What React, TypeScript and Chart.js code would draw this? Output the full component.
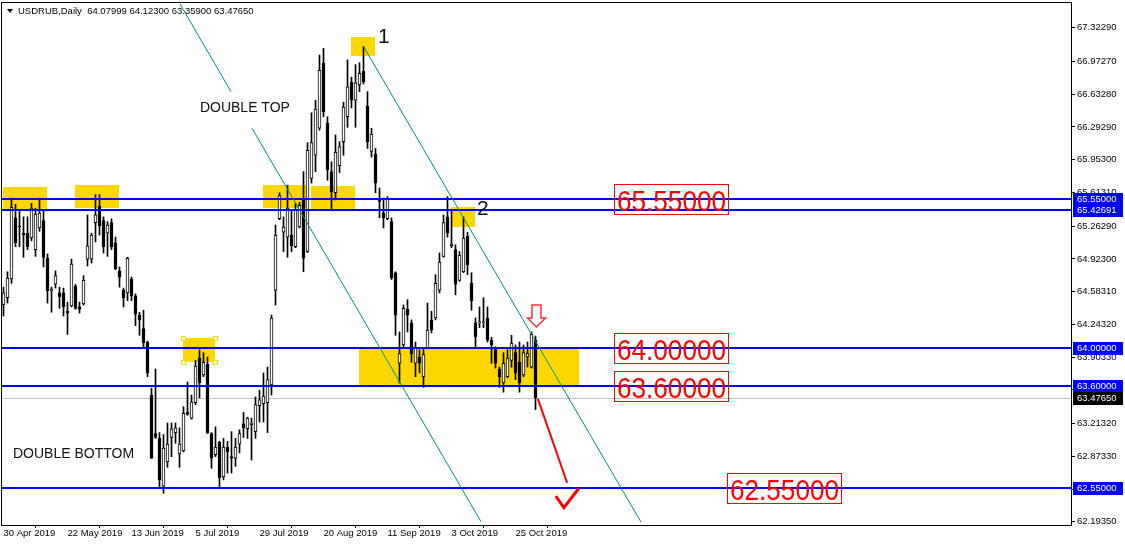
import React, { useEffect, useRef } from 'react';
import { Chart, registerables } from 'chart.js';
Chart.register(...registerables);

// ---------- data (USDRUB daily, 30 Apr 2019 .. 1 Nov 2019) ----------
const OPEN = [
  64.445, 64.52, 64.715, 65.35, 65.265, 65.19, 65.19, 65.14, 65.02, 65.245,
  65.32, 64.93, 64.59, 64.66, 64.57, 64.57, 64.38, 64.435, 64.64, 64.425,
  64.455, 64.92, 64.92, 65.30, 65.47, 65.32, 65.19, 65.30, 65.09, 64.80,
  64.60, 64.57, 64.715, 64.54, 64.34, 64.20, 64.06, 63.51, 63.11, 63.06,
  62.565, 62.815, 63.07, 63.12, 62.90, 62.93, 63.33, 63.27, 63.43, 63.895,
  63.72, 63.83, 63.11, 62.89, 63.02, 62.66, 62.97, 62.87, 62.855, 63.00,
  63.21, 63.16, 63.20, 63.13, 63.40, 63.42, 63.43, 63.615, 64.60, 65.34,
  65.20, 65.15, 65.17, 65.05, 65.255, 65.535, 65.00, 65.76, 66.00, 66.28,
  66.96, 66.33, 65.83, 65.61, 65.89, 66.14, 66.40, 66.76, 66.57, 66.73,
  66.87, 66.51, 66.04, 66.01, 65.535, 65.40, 65.34, 65.31, 64.78, 63.84,
  64.03, 64.40, 64.26, 63.84, 63.905, 63.70, 64.00, 64.29, 64.31, 64.60,
  64.95, 65.36, 65.06, 65.02, 64.70, 64.79, 65.16, 64.67, 64.26, 64.26,
  64.26, 64.31, 64.08, 64.00, 63.78, 63.635, 63.70, 63.87, 63.95, 63.85,
  63.72, 63.905, 63.80, 64.07999,
];
const HIGH = [
  64.63, 64.79, 65.555, 65.49, 65.43, 65.36, 65.36, 65.50, 65.45, 65.555,
  65.43, 64.975, 64.63, 64.80, 64.63, 64.62, 64.475, 64.92, 64.66, 64.475,
  64.75, 65.38, 65.19, 65.59, 65.59, 65.36, 65.31, 65.34, 65.15, 64.84,
  64.62, 64.94, 64.735, 64.56, 64.37, 64.39, 64.07, 63.58, 63.78, 63.12,
  63.10, 63.22, 63.22, 63.22, 63.17, 63.39, 63.645, 63.51, 63.87, 63.98,
  63.95, 63.905, 63.12, 63.18, 63.03, 63.06, 63.03, 63.13, 63.06, 63.15,
  63.33, 63.28, 63.27, 63.49, 63.56, 63.74, 63.80, 64.34, 65.275, 65.61,
  65.36, 65.69, 65.43, 65.50, 65.51, 65.83, 66.13, 66.44, 66.57, 67.04,
  67.11, 66.40, 65.93, 66.21, 66.14, 66.55, 66.99, 66.81, 66.94, 66.96,
  67.13, 66.66, 66.28, 66.07, 65.66, 65.555, 65.57, 65.35, 64.79, 64.165,
  64.445, 64.50, 64.29, 64.06, 63.98, 63.99, 64.465, 64.38, 64.76, 64.985,
  65.38, 65.57, 65.43, 65.07, 65.00, 65.36, 65.20, 64.78, 64.31, 64.425,
  64.52, 64.425, 64.11, 64.01, 63.80, 63.95, 63.98, 64.13, 64.03, 64.06,
  64.03, 64.06, 64.165, 64.123,
];
const LOW = [
  64.33, 64.465, 64.67, 65.05, 65.05, 64.94, 65.02, 65.11, 64.95, 65.21,
  64.84, 64.465, 64.37, 64.62, 64.41, 64.33, 64.14, 64.425, 64.40, 64.36,
  64.445, 64.85, 64.88, 65.10, 65.17, 64.985, 64.95, 65.02, 64.81, 64.63,
  64.425, 64.49, 64.49, 64.23, 64.13, 64.00, 63.70, 62.85, 63.06, 62.555,
  62.49, 62.76, 62.87, 63.01, 62.76, 62.92, 63.30, 63.26, 63.41, 63.48,
  63.70, 63.11, 62.75, 62.87, 62.555, 62.63, 62.70, 62.70, 62.77, 62.91,
  63.07, 63.06, 62.835, 63.06, 63.23, 63.23, 63.12, 63.51, 64.445, 65.33,
  65.00, 64.94, 65.00, 65.04, 65.245, 64.79, 64.99, 65.71, 65.83, 66.26,
  66.40, 65.74, 65.43, 65.535, 65.82, 66.00, 66.29, 66.49, 66.29, 66.66,
  66.74, 66.07, 65.98, 65.61, 65.35, 65.245, 65.33, 64.71, 64.13, 63.635,
  64.00, 64.165, 63.85, 63.70, 63.74, 63.59, 63.99, 64.155, 64.29, 64.57,
  64.94, 65.15, 65.04, 64.55, 64.69, 64.78, 64.76, 64.39, 64.01, 64.21,
  64.21, 64.06, 63.84, 63.79, 63.59, 63.54, 63.69, 63.80, 63.67, 63.54,
  63.70, 63.80, 63.79, 63.359,
];
const CLOSE = [
  64.57, 64.725, 65.46, 65.09, 65.255, 65.17, 65.05, 65.45, 65.39, 65.40,
  64.94, 64.59, 64.61, 64.75, 64.53, 64.425, 64.36, 64.87, 64.41, 64.40,
  64.70, 65.06, 65.17, 65.38, 65.265, 65.05, 65.275, 65.05, 64.82, 64.735,
  64.52, 64.93, 64.54, 64.35, 64.29, 64.05, 63.74, 62.855, 63.07, 62.63,
  62.96, 63.00, 63.16, 63.17, 63.00, 63.32, 63.31, 63.44, 63.81, 63.635,
  63.85, 63.12, 62.855, 62.97, 62.65, 62.97, 62.92, 62.855, 62.97, 63.11,
  63.17, 63.27, 63.22, 63.41, 63.46, 63.50, 63.67, 64.31, 65.17, 65.58,
  65.255, 65.45, 65.06, 65.43, 65.48, 64.93, 66.05, 66.13, 66.48, 66.88,
  66.45, 65.85, 65.62, 66.03, 66.09, 66.50, 66.71, 66.57, 66.75, 66.85,
  66.76, 66.14, 66.22, 65.71, 65.52, 65.35, 65.555, 64.725, 64.34, 63.94,
  64.41, 64.34, 63.94, 64.01, 63.84, 63.93, 64.185, 64.185, 64.67, 64.89,
  65.30, 65.19, 65.08, 64.66, 64.96, 65.14, 64.86, 64.49, 64.11, 64.27,
  64.265, 64.08, 64.03, 63.84, 63.70, 63.84, 63.895, 64.05, 63.74, 63.635,
  63.95, 63.94, 64.14, 63.4765,
];

const X_TICK_INDEX = [0, 16, 32, 48, 64, 80, 96, 112, 128];
const X_TICK_LABELS = [
  '30 Apr 2019', '22 May 2019', '13 Jun 2019', '5 Jul 2019', '29 Jul 2019',
  '20 Aug 2019', '11 Sep 2019', '3 Oct 2019', '25 Oct 2019',
];
const Y_TICKS = [
  67.3229, 66.9727, 66.6328, 66.2929, 65.953, 65.6131, 65.2629, 64.923,
  64.5831, 64.2432, 63.9033, 63.5634, 63.2132, 62.8733, 62.5334, 62.1935,
];
const LEVELS = [65.55, 65.42691, 64.0, 63.6, 62.55];
const BID = 63.4765;
const TITLE = 'USDRUB,Daily  64.07999 64.12300 63.35900 63.47650';

// ---------- drawing objects, in bar-index / price units ----------
const ZONES = [
  { x0: -0.25, x1: 10.9, p0: 65.67, p1: 65.43 },
  { x0: 17.9, x1: 28.9, p0: 65.69, p1: 65.45 },
  { x0: 64.9, x1: 75.6, p0: 65.69, p1: 65.45 },
  { x0: 76.9, x1: 87.9, p0: 65.68, p1: 65.43 },
  { x0: 86.9, x1: 92.9, p0: 67.23, p1: 67.03 },
  { x0: 111.9, x1: 117.9, p0: 65.46, p1: 65.255 },
  { x0: 44.9, x1: 52.9, p0: 64.1, p1: 63.85, handles: true },
  { x0: 88.9, x1: 143.9, p0: 64.01, p1: 63.61 },
];
const TRENDS = [
  { x0: 44.125, p0: 67.57, x1: 56.875, p1: 66.66 },
  { x0: 62.125, p0: 66.28, x1: 119.375, p1: 62.195 },
  { x0: 90, p0: 67.13, x1: 159.4, p1: 62.19 },
];
const LABELS = [
  { text: 'DOUBLE TOP', x: 49.1, p: 66.49, size: 14 },
  { text: 'DOUBLE BOTTOM', x: 2.375, p: 62.9, size: 14 },
  { text: '1', x: 93.6, p: 67.23, size: 21 },
  { text: '2', x: 118.4, p: 65.44, size: 21 },
];
const BOXES = [
  { text: '65.55000', x: 152.6, p: 65.55 },
  { text: '64.00000', x: 152.6, p: 64.0 },
  { text: '63.60000', x: 152.6, p: 63.6 },
  { text: '62.55000', x: 180.9, p: 62.55 },
];
const RED_ARROW = { x0: 133.6, p0: 63.47, x1: 140.9, p1: 62.6 };
const CHECK = [
  { x: 138.1, p: 62.46 },
  { x: 140.1, p: 62.34 },
  { x: 143.9, p: 62.545 },
];
const DOWN_ARROW = { x: 133, p: 64.22 };

const FONT = 'Liberation Sans, Arial, sans-serif';

const overlay = {
  id: 'overlay',
  beforeDraw(chart: any) {
    const { ctx, width, height } = chart;
    ctx.save();
    ctx.fillStyle = '#ffffff';
    ctx.fillRect(0, 0, width, height);
    ctx.restore();
  },
  beforeDatasetsDraw(chart: any) {
    const { ctx, chartArea: a } = chart;
    const X = (v: number) => chart.scales.x.getPixelForValue(v);
    const Y = (v: number) => chart.scales.y.getPixelForValue(v);
    ctx.save();
    ctx.beginPath();
    ctx.rect(a.left, a.top, a.right - a.left, a.bottom - a.top);
    ctx.clip();
    ctx.fillStyle = '#FFD700';
    for (const z of ZONES) {
      const x0 = Math.round(X(z.x0)), x1 = Math.round(X(z.x1));
      const y0 = Math.round(Y(z.p0)), y1 = Math.round(Y(z.p1));
      ctx.fillRect(x0, y0, x1 - x0, y1 - y0);
    }
    // bid line
    ctx.strokeStyle = '#C0C0C0';
    ctx.lineWidth = 1;
    const by = Math.round(Y(BID)) + 0.5;
    ctx.beginPath();
    ctx.moveTo(a.left, by);
    ctx.lineTo(a.right, by);
    ctx.stroke();
    ctx.restore();
  },
  afterDatasetsDraw(chart: any) {
    const { ctx, chartArea: a } = chart;
    const X = (v: number) => chart.scales.x.getPixelForValue(v);
    const Y = (v: number) => chart.scales.y.getPixelForValue(v);
    ctx.save();
    ctx.beginPath();
    ctx.rect(a.left, a.top, a.right - a.left, a.bottom - a.top);
    ctx.clip();

    // selection handles on one zone
    for (const z of ZONES) {
      if (!z.handles) continue;
      const x0 = Math.round(X(z.x0)), x1 = Math.round(X(z.x1));
      const y0 = Math.round(Y(z.p0)), y1 = Math.round(Y(z.p1));
      ctx.fillStyle = '#ffffff';
      ctx.strokeStyle = '#FFD700';
      ctx.lineWidth = 1;
      for (const [hx, hy] of [[x0, y0], [x1, y0], [x0, y1], [x1, y1]]) {
        ctx.fillRect(hx - 2, hy - 2, 5, 5);
        ctx.strokeRect(hx - 2 + 0.5, hy - 2 + 0.5, 4, 4);
      }
    }

    // horizontal levels
    ctx.strokeStyle = '#0000FF';
    ctx.lineWidth = 2;
    for (const l of LEVELS) {
      const y = Math.round(Y(l));
      ctx.beginPath();
      ctx.moveTo(a.left, y);
      ctx.lineTo(a.right, y);
      ctx.stroke();
    }

    // trend lines
    ctx.strokeStyle = '#008B8B';
    ctx.lineWidth = 1;
    for (const t of TRENDS) {
      ctx.beginPath();
      ctx.moveTo(X(t.x0), Y(t.p0));
      ctx.lineTo(X(t.x1), Y(t.p1));
      ctx.stroke();
    }

    // text labels
    ctx.fillStyle = '#111111';
    ctx.textBaseline = 'middle';
    ctx.textAlign = 'left';
    for (const l of LABELS) {
      ctx.font = `${l.size}px ${FONT}`;
      ctx.fillText(l.text, X(l.x), Y(l.p));
    }

    // red price boxes
    for (const b of BOXES) {
      const left = Math.round(X(b.x));
      const cy = Math.round(Y(b.p));
      ctx.strokeStyle = '#FF0000';
      ctx.lineWidth = 1;
      ctx.strokeRect(left + 0.5, cy - 15 + 0.5, 114, 30);
      ctx.font = `30px ${FONT}`;
      const w = ctx.measureText(b.text).width;
      ctx.save();
      ctx.translate(left + 3, cy + 12);
      ctx.scale(109 / w, 1);
      ctx.fillStyle = '#FF0000';
      ctx.textBaseline = 'alphabetic';
      ctx.fillText(b.text, 0, 0);
      ctx.restore();
    }

    // red projection arrow + check
    ctx.strokeStyle = '#FF0000';
    ctx.lineWidth = 2;
    ctx.beginPath();
    ctx.moveTo(X(RED_ARROW.x0), Y(RED_ARROW.p0));
    ctx.lineTo(X(RED_ARROW.x1), Y(RED_ARROW.p1));
    ctx.stroke();
    ctx.lineWidth = 3;
    ctx.lineJoin = 'miter';
    ctx.beginPath();
    CHECK.forEach((c, i) => {
      if (i === 0) ctx.moveTo(X(c.x), Y(c.p));
      else ctx.lineTo(X(c.x), Y(c.p));
    });
    ctx.stroke();

    // hollow down arrow
    const ax = Math.round(X(DOWN_ARROW.x)) + 0.5;
    const ay = Math.round(Y(DOWN_ARROW.p));
    ctx.beginPath();
    ctx.moveTo(ax - 4.5, ay - 22);
    ctx.lineTo(ax + 4.5, ay - 22);
    ctx.lineTo(ax + 4.5, ay - 9);
    ctx.lineTo(ax + 9, ay - 9);
    ctx.lineTo(ax, ay);
    ctx.lineTo(ax - 9, ay - 9);
    ctx.lineTo(ax - 4.5, ay - 9);
    ctx.closePath();
    ctx.fillStyle = '#ffffff';
    ctx.fill();
    ctx.strokeStyle = '#FF3030';
    ctx.lineWidth = 1.5;
    ctx.stroke();
    ctx.restore();
  },
  afterDraw(chart: any) {
    const { ctx, chartArea: a } = chart;
    const Y = (v: number) => chart.scales.y.getPixelForValue(v);
    ctx.save();
    // frame
    ctx.strokeStyle = '#000000';
    ctx.lineWidth = 1;
    ctx.strokeRect(Math.round(a.left) - 0.5, Math.round(a.top) - 0.5,
      Math.round(a.right - a.left) + 1, Math.round(a.bottom - a.top) + 1);

    // title
    ctx.fillStyle = '#000000';
    ctx.beginPath();
    ctx.moveTo(a.left + 5, a.top + 6);
    ctx.lineTo(a.left + 11, a.top + 6);
    ctx.lineTo(a.left + 8, a.top + 10);
    ctx.closePath();
    ctx.fill();
    ctx.font = `9.5px ${FONT}`;
    ctx.textBaseline = 'middle';
    ctx.textAlign = 'left';
    ctx.fillText(TITLE, a.left + 16, a.top + 8);

    // highlighted axis labels
    const tags = [
      ...LEVELS.map((v) => ({ v, bg: '#0000FF' })),
      { v: BID, bg: '#000000' },
    ];
    for (const t of tags) {
      const cy = Math.round(Y(t.v));
      ctx.fillStyle = t.bg;
      ctx.fillRect(a.right + 2, cy - 6, 50, 13);
      ctx.fillStyle = '#ffffff';
      ctx.fillText(t.v.toFixed(5), a.right + 6, cy + 0.5);
    }
    ctx.restore();
  },
};

export default function App() {
  const ref = useRef<HTMLCanvasElement | null>(null);
  useEffect(() => {
    if (!ref.current) return;
    const idx = OPEN.map((_, i) => i);
    const bull = idx.map((i) => CLOSE[i] > OPEN[i]);
    const chart = new Chart(ref.current, {
      type: 'bar',
      data: {
        datasets: [
          {
            label: 'body',
            data: idx.map((i) => ({ x: i, y: [OPEN[i], CLOSE[i]] })) as any,
            backgroundColor: bull.map((b) => (b ? '#ffffff' : '#000000')),
            borderColor: '#000000',
            borderWidth: 1,
            borderSkipped: false,
            barThickness: 3,
            minBarLength: 1,
            grouped: false,
            order: 0,
          } as any,
          {
            label: 'wick',
            data: idx.map((i) => ({ x: i, y: [LOW[i], HIGH[i]] })) as any,
            backgroundColor: '#000000',
            borderWidth: 0,
            barThickness: 1,
            grouped: false,
            order: 1,
          } as any,
        ],
      },
      options: {
        animation: false,
        responsive: false,
        devicePixelRatio: 1,
        events: [],
        layout: { padding: { left: 2, top: 3, right: 0, bottom: 0 } },
        plugins: { legend: { display: false }, tooltip: { enabled: false } },
        scales: {
          x: {
            type: 'linear',
            min: -0.375,
            max: 266.875,
            offset: false,
            afterBuildTicks: (s: any) => {
              s.ticks = X_TICK_INDEX.map((v) => ({ value: v }));
            },
            afterFit: (s: any) => {
              s.height = 21;
              s.paddingLeft = 0;
              s.paddingRight = 0;
            },
            ticks: {
              autoSkip: false,
              maxRotation: 0,
              align: 'start',
              padding: 0,
              color: '#000000',
              font: { family: FONT, size: 9.5 },
              callback: (_v: any, i: number) => X_TICK_LABELS[i] ?? '',
            },
            grid: { drawOnChartArea: false, drawTicks: true, tickLength: 3, color: '#000000' },
            border: { display: false },
          },
          y: {
            type: 'linear',
            position: 'right',
            min: 62.161,
            max: 67.58,
            afterBuildTicks: (s: any) => {
              s.ticks = Y_TICKS.map((v) => ({ value: v }));
            },
            afterFit: (s: any) => {
              s.width = 54;
              s.paddingTop = 0;
              s.paddingBottom = 0;
            },
            ticks: {
              autoSkip: false,
              padding: 2,
              color: '#000000',
              font: { family: FONT, size: 9.5 },
              callback: (v: any) => Number(v).toFixed(5),
            },
            grid: { drawOnChartArea: false, drawTicks: true, tickLength: 4, color: '#000000' },
            border: { display: false },
          },
        },
      } as any,
      plugins: [overlay],
    });
    return () => chart.destroy();
  }, []);
  return (
    <div style={{ position: 'absolute', left: 0, top: 0, width: 1125, height: 546, background: '#fff' }}>
      <canvas ref={ref} width={1125} height={546} style={{ display: 'block' }} />
    </div>
  );
}
